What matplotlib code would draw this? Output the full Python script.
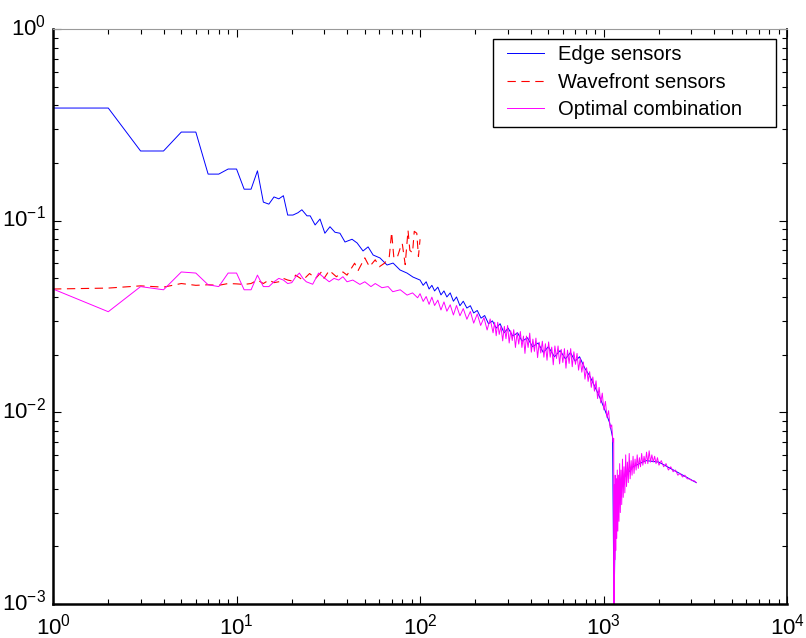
import matplotlib
matplotlib.use("Agg")
import matplotlib.pyplot as plt
import matplotlib.transforms as mtransforms
from matplotlib.patches import Rectangle
from matplotlib.ticker import LogLocator, NullFormatter

plt.rcParams["font.family"] = ["Liberation Sans", "DejaVu Sans"]

# edge sensors (blue)
edge_x = [1, 2, 3, 4, 5, 6, 7, 8, 9, 10, 11, 12, 13, 14, 15, 16, 17, 18, 19,
          20.3, 21.6, 22.7, 24.2, 25.2, 26.8, 28.5, 30.3, 32.3, 34.4, 36.6, 39,
          42.6, 45.4, 48.9, 52.1, 55.5, 60.5, 66.1, 71.3, 77.8, 84.9, 91.5,
          100, 104, 108, 112, 116, 120, 125, 130, 135, 140, 146, 152, 158, 165,
          172, 180, 188, 196, 205, 215, 225, 236, 248, 260, 273, 287, 302, 320,
          340, 360, 385, 410, 440, 470, 500, 540, 580, 620, 660, 700, 740, 790,
          840, 900, 960, 1020, 1080, 1120, 1140, 1160, 1200, 1300, 1450, 1700,
          2000, 2500, 3200]
edge_y = [0.387, 0.387, 0.231, 0.231, 0.290, 0.290, 0.175, 0.175, 0.186, 0.186,
          0.146, 0.146, 0.182, 0.125, 0.122, 0.133, 0.130, 0.135, 0.107,
          0.107, 0.110, 0.114, 0.106, 0.106, 0.095, 0.102, 0.086, 0.093, 0.087,
          0.086, 0.0774, 0.080, 0.0765, 0.0695, 0.073, 0.0662, 0.0639, 0.0587,
          0.0601, 0.0553, 0.0533, 0.0508,
          0.049, 0.046, 0.048, 0.044, 0.046, 0.043, 0.045, 0.041, 0.043, 0.040,
          0.042, 0.038, 0.040, 0.036, 0.038, 0.035, 0.036, 0.033, 0.034, 0.031,
          0.032, 0.029, 0.030, 0.0275, 0.029, 0.026, 0.0275, 0.025, 0.026,
          0.0235, 0.0245, 0.022, 0.023, 0.0205, 0.022, 0.0195, 0.021, 0.019,
          0.0205, 0.0185, 0.0195, 0.017, 0.0155, 0.0135, 0.0118, 0.0102, 0.0088,
          0.0074, 0.0009, 0.0030, 0.0040, 0.0046, 0.0052, 0.0056, 0.0055, 0.0049,
          0.0043]

# wavefront sensors (red, dashed)
wave_x = [1, 2, 3, 4, 5, 6, 7, 8, 9, 10, 11, 12, 13, 14, 15, 16, 17, 18, 19, 20,
          21, 23, 25, 27, 29, 30, 32, 35, 38, 40, 44, 46, 50, 53, 57, 60, 64, 68,
          70, 72, 75, 78, 80, 83, 86, 88, 91, 93, 96, 98, 100]
wave_y = [0.0440, 0.0445, 0.0457, 0.0450, 0.0470, 0.0460, 0.0463, 0.0460,
          0.0470, 0.0468, 0.0465, 0.0470, 0.0490, 0.0470, 0.0490, 0.0475,
          0.0480, 0.0500, 0.0490, 0.0485, 0.0520, 0.0490, 0.0530, 0.0500,
          0.0540, 0.0500, 0.0550, 0.0510, 0.0540, 0.0520, 0.0600, 0.0550,
          0.0640, 0.0575, 0.0625, 0.0575, 0.0600, 0.0650, 0.0870, 0.0640,
          0.0640, 0.0720, 0.0760, 0.0590, 0.0890, 0.0700, 0.0680, 0.0880,
          0.0860, 0.0650, 0.0800]

# optimal combination (magenta)
opt_x = [1, 2, 3, 4, 5, 6, 7, 8, 9, 10,
         11, 12, 13, 14, 15, 16, 17, 18, 19, 20,
         21, 22, 23, 24, 26, 28, 30, 32, 34, 36,
         38, 40, 43, 47, 50, 54, 57, 62, 67, 71,
         78, 85, 91, 97,
         100, 104, 108, 112, 116, 120, 125, 130, 135, 140,
         146, 152, 158, 165, 172, 180, 188, 196, 205, 214,
         223, 232, 241, 250, 255, 260, 265, 270, 276, 282,
         288, 294, 300, 306, 312, 318, 324, 331, 338, 345,
         352, 359, 366, 373, 380, 388, 396, 404, 412, 420,
         428, 437, 446, 455, 464, 473, 482, 492, 502, 512,
         522, 532, 543, 554, 565, 576, 588, 600, 612, 624,
         636, 649, 662, 675, 689, 703, 717, 731, 746, 761,
         776, 792, 808, 824, 840, 857, 874, 892, 910, 928,
         946, 965, 984, 1004, 1024, 1044, 1065, 1086, 1108, 1125,
         1136, 1140, 1146, 1152, 1158, 1165, 1172, 1180, 1188, 1196,
         1205, 1214, 1224, 1234, 1245, 1256, 1268, 1280, 1293, 1306,
         1320, 1334, 1349, 1364, 1380, 1396, 1413, 1430, 1448, 1466,
         1485, 1505, 1525, 1546, 1568, 1590, 1613, 1637, 1662, 1688,
         1715, 1743, 1772, 1802, 1833, 1865, 1898, 1932, 1967, 2004,
         2064, 2126, 2190, 2256, 2324, 2394, 2466, 2540, 2616, 2694,
         2774, 2856, 2940, 3026, 3114, 3200]
opt_y = [0.0440, 0.0335, 0.0453, 0.0436, 0.0540, 0.0533, 0.0463, 0.0453, 0.0533, 0.0533,
         0.0436, 0.0436, 0.0520, 0.0453, 0.0453, 0.0480, 0.0500, 0.0490, 0.0470, 0.0475,
         0.0509, 0.0533, 0.0500, 0.0480, 0.0466, 0.0533, 0.0504, 0.0480, 0.0500, 0.0490,
         0.0510, 0.0480, 0.0490, 0.0465, 0.0480, 0.0453, 0.0470, 0.0447, 0.0453, 0.0426,
         0.0436, 0.0409, 0.0420, 0.0396,
         0.0416, 0.0379, 0.0402, 0.0366, 0.0399, 0.0361, 0.0385, 0.0342, 0.0377, 0.0337,
         0.0364, 0.0322, 0.0361, 0.0319, 0.0348, 0.0306, 0.0336, 0.0292, 0.0326, 0.0284,
         0.0312, 0.0269, 0.0307, 0.0260, 0.0295, 0.0251, 0.0295, 0.0255, 0.0281, 0.0236,
         0.0281, 0.0242, 0.0284, 0.0230, 0.0267, 0.0237, 0.0270, 0.0218, 0.0261, 0.0227,
         0.0264, 0.0218, 0.0250, 0.0203, 0.0250, 0.0218, 0.0259, 0.0206, 0.0241, 0.0208,
         0.0244, 0.0193, 0.0232, 0.0204, 0.0235, 0.0194, 0.0228, 0.0187, 0.0233, 0.0194,
         0.0219, 0.0177, 0.0222, 0.0191, 0.0222, 0.0179, 0.0213, 0.0182, 0.0215, 0.0170,
         0.0211, 0.0180, 0.0215, 0.0173, 0.0207, 0.0178, 0.0203, 0.0166, 0.0191, 0.0162,
         0.0183, 0.0149, 0.0171, 0.0145, 0.0163, 0.0135, 0.0153, 0.0129, 0.0146, 0.0118,
         0.0135, 0.0112, 0.0126, 0.0103, 0.0114, 0.0094, 0.0102, 0.0083, 0.0086, 0.0070,
         0.0073, 0.0009, 0.0042, 0.0017, 0.0047, 0.0019, 0.0045, 0.0022, 0.0050, 0.0024,
         0.0047, 0.0027, 0.0054, 0.0030, 0.0050, 0.0033, 0.0057, 0.0036, 0.0052, 0.0038,
         0.0060, 0.0041, 0.0055, 0.0043, 0.0061, 0.0045, 0.0056, 0.0047, 0.0059, 0.0048,
         0.0057, 0.0050, 0.0060, 0.0051, 0.0058, 0.0052, 0.0061, 0.0053, 0.0059, 0.0054,
         0.0062, 0.0054, 0.0063, 0.0055, 0.0060, 0.0055, 0.0059, 0.0054, 0.0058, 0.0053,
         0.0056, 0.0052, 0.0054, 0.0050, 0.0052, 0.0049, 0.0050, 0.0047, 0.0048, 0.0046,
         0.0047, 0.0045, 0.0045, 0.0044, 0.0044, 0.0043]

labels = ["Edge sensors", "Wavefront sensors", "Optimal combination"]

fig = plt.figure(figsize=(8.06, 6.38), dpi=100)
ax = fig.add_axes([0.0658, 0.0533, 0.9107, 0.9012])

ax.plot(edge_x, edge_y, color="#0000ff", lw=0.7, label=labels[0])
ax.plot(wave_x, wave_y, color="#ff0000", lw=0.8, dashes=(7.5, 5), label=labels[1])
ax.plot(opt_x, opt_y, color="#ff00ff", lw=0.7, label=labels[2])

ax.set_xscale("log")
ax.set_yscale("log")
ax.set_xlim(1, 1e4)
ax.set_ylim(1e-3, 1)
ax.xaxis.set_major_locator(LogLocator(base=10, numticks=10))
ax.yaxis.set_major_locator(LogLocator(base=10, numticks=10))
ax.xaxis.set_minor_formatter(NullFormatter())
ax.yaxis.set_minor_formatter(NullFormatter())
ax.tick_params(which="both", direction="in", top=True, right=True,
               labelsize=16, color="black")
ax.tick_params(which="major", length=6, width=0.8)
ax.tick_params(which="minor", length=3.5, width=0.8)
ax.tick_params(axis="x", pad=7)
ax.tick_params(axis="y", pad=5)

# y labels sit a little above their ticks, as in the original
lift = mtransforms.ScaledTranslation(0, 3 / 72, fig.dpi_scale_trans)
for lab in ax.get_yticklabels():
    lab.set_transform(lab.get_transform() + lift)

for side in ("left", "bottom"):
    ax.spines[side].set_linewidth(1.8)
ax.spines["right"].set_linewidth(1.2)
ax.spines["top"].set_linewidth(0.8)
ax.spines["top"].set_color("#9a9a9a")

# legend: MATLAB-style box, wider than its contents
leg = ax.legend(loc="upper left", bbox_to_anchor=(0.6185, 0.972),
                borderaxespad=0, borderpad=0, fontsize=14.5, handlelength=1.85,
                handletextpad=0.7, labelspacing=0.42, frameon=False)
ax.add_patch(Rectangle((0.5995, 0.8296), 0.3855, 0.153, transform=ax.transAxes,
                       facecolor="white", edgecolor="black", lw=1.0, zorder=4))
leg.set_zorder(5)

fig.savefig("out.png", dpi=100, facecolor="white")
